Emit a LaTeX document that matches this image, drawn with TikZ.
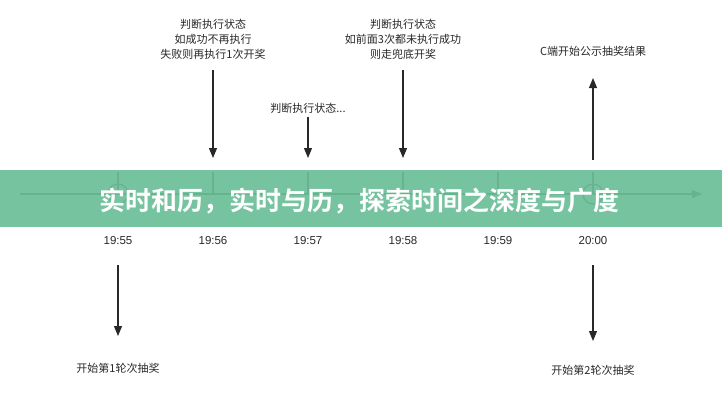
\documentclass[tikz,border=0pt]{standalone}
\usepackage{fontspec}
\setmainfont{Liberation Sans}
\newfontfamily\cjk{Noto Sans CJK SC}
\newfontfamily\cjkb{Noto Sans CJK SC Bold}
\usetikzlibrary{arrows.meta}
\definecolor{banner}{RGB}{108,190,152}
\definecolor{ink}{RGB}{40,40,40}
\begin{document}
\begin{tikzpicture}[x=1pt, y=-1pt, >={Triangle[length=10pt,width=8pt]},
  note/.style={font=\cjk\fontsize{11}{15}\selectfont, text=ink, align=center},
  time/.style={font=\fontsize{11.5}{13}\selectfont, text=ink},
  link/.style={->, ink, line width=1.1pt}]
\useasboundingbox (0,0) rectangle (722,400);
% timeline
\coordinate (start) at (20,194);
\coordinate (end) at (702,194);
\draw[link] (start) -- (end);
\foreach \x/\t in {118/19:55, 213/19:56, 308/19:57, 403/19:58, 498/19:59, 593/20:00}{
  \draw[ink, line width=1.1pt] (\x,172) -- (\x,194);
  \node[time] at (\x,241) {\t};
}
\draw[ink, line width=1.3pt] (118,194) circle (10);
\draw[ink, line width=1.3pt] (593,194) circle (10);
% top notes
\node[note] (n1) at (213,39) {判断执行状态\\如成功不再执行\\失败则再执行1次开奖};
\node[note] (n2) at (308,108) {判断执行状态...};
\node[note] (n3) at (403,39) {判断执行状态\\如前面3次都未执行成功\\则走兜底开奖};
\node[note] (n4) at (593,51) {C端开始公示抽奖结果};
\coordinate (t1) at (213,158);
\coordinate (t2) at (308,158);
\coordinate (t3) at (403,158);
\coordinate (t4) at (593,160);
\coordinate (u4) at (593,78);
\draw[link] (213,70) -- (t1);
\draw[link] (n2.south) -- (t2);
\draw[link] (403,70) -- (t3);
\draw[link] (t4) -- (u4);
% bottom notes
\node[note] (b1) at (118,368) {开始第1轮次抽奖};
\node[note] (b2) at (593,370) {开始第2轮次抽奖};
\coordinate (s1) at (118,265);
\coordinate (s2) at (593,265);
\draw[link] (s1) -- (118,336);
\draw[link] (s2) -- (593,341);
% banner
\fill[banner, opacity=.93] (0,170) rectangle (722,227);
\node[font=\cjkb\fontsize{26}{30}\selectfont, text=white, anchor=west, inner sep=0] (title) at (99,201) {实时和历，实时与历，探索时间之深度与广度};
\end{tikzpicture}
\end{document}
